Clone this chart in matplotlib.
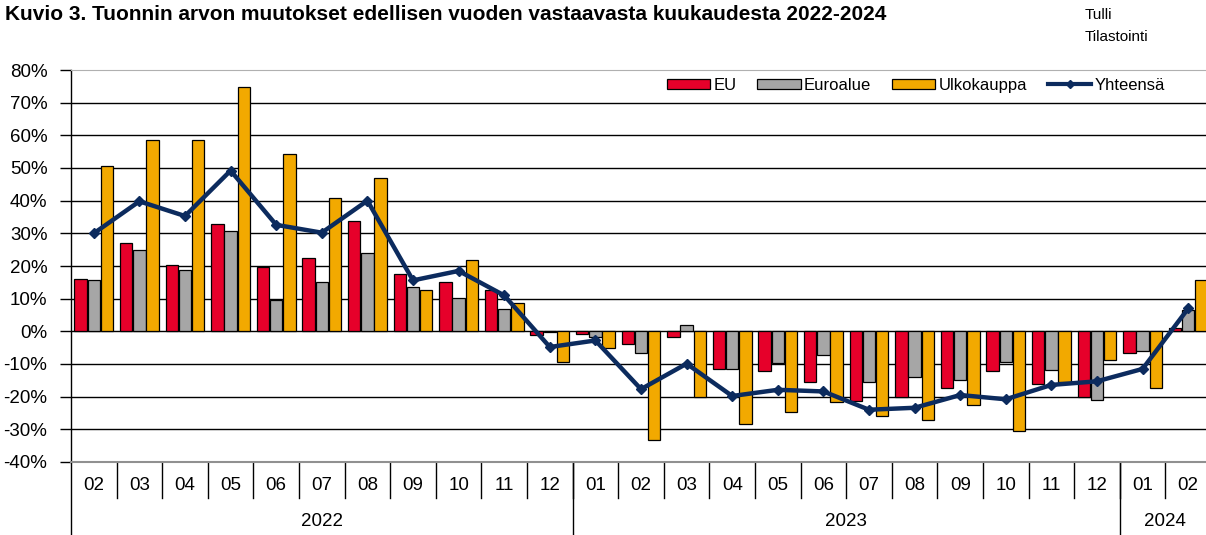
import numpy as np
import matplotlib
matplotlib.use("Agg")
import matplotlib.pyplot as plt
from matplotlib.ticker import FuncFormatter
from matplotlib.patches import Patch
from matplotlib.lines import Line2D

plt.rcParams['font.family'] = ['Liberation Sans', 'DejaVu Sans']

# data (% change on same month of previous year)
months = ['02', '03', '04', '05', '06', '07', '08', '09', '10', '11', '12',
          '01', '02', '03', '04', '05', '06', '07', '08', '09', '10', '11', '12',
          '01', '02']
years = ['2022', '2023', '2024']
year_counts = [11, 12, 2]

eu = [16.1, 27.1, 20.3, 32.8, 19.6, 22.4, 33.8, 17.6, 15.1, 12.7, -1.0,
      -0.7, -3.9, -1.8, -11.5, -12.0, -15.6, -21.4, -20.0, -17.2, -12.0, -16.1, -20.0,
      -6.7, 1.1]
euroalue = [15.6, 25.0, 18.7, 30.7, 9.7, 15.1, 23.9, 13.5, 10.3, 6.7, -0.3,
            -1.8, -6.6, 1.9, -11.5, -9.6, -7.1, -15.6, -14.1, -14.9, -9.4, -11.7, -21.0,
            -6.1, 6.6]
ulkokauppa = [50.7, 58.6, 58.6, 74.7, 54.3, 40.8, 47.0, 12.8, 21.8, 8.8, -9.4,
              -5.1, -33.2, -20.0, -28.5, -24.7, -21.6, -25.8, -27.0, -22.6, -30.6, -15.5, -8.9,
              -17.4, 15.6]
yhteensa = [30.0, 39.8, 35.3, 49.2, 32.6, 30.2, 40.0, 15.6, 18.5, 11.0, -4.8,
            -2.8, -17.7, -9.9, -19.8, -17.9, -18.4, -24.0, -23.4, -19.5, -20.8, -16.4, -15.3,
            -11.5, 7.0]

c_eu = '#E6002A'
c_euro = '#A6A6A6'
c_ulko = '#F2A900'
c_line = '#0C2B5E'

fig = plt.figure(figsize=(12.06, 5.35), dpi=100)
ax = fig.add_axes([71/1206, 1-462/535, 1140/1206, 392/535])

x = np.arange(len(months))
w = 0.275
off = 0.29
kw = dict(width=w, edgecolor='black', linewidth=0.9, zorder=3)
ax.bar(x - off, eu, color=c_eu, **kw)
ax.bar(x, euroalue, color=c_euro, **kw)
ax.bar(x + off, ulkokauppa, color=c_ulko, **kw)
ax.plot(x, yhteensa, color=c_line, lw=3.2, marker='D', ms=5, zorder=4)

ax.set_xlim(-0.5, len(months) - 0.5)
ax.set_ylim(-40, 80)
ax.set_yticks(np.arange(-40, 81, 10))
ax.yaxis.set_major_formatter(FuncFormatter(lambda v, p: f'{v:.0f}%'))
ax.tick_params(axis='y', direction='out', length=8, width=1, labelsize=13.5, pad=9)
ax.set_xticks([])
for v in range(-30, 80, 10):
    ax.axhline(v, color='black', lw=1, zorder=1)

ax.spines['right'].set_visible(False)
ax.spines['top'].set_color('#B0B0B0')
ax.spines['bottom'].set_color('#909090')
ax.spines['bottom'].set_linewidth(1.5)
ax.spines['left'].set_linewidth(1)

# category axis: months and years
tr = ax.get_xaxis_transform()
for i, m in enumerate(months):
    ax.text(i, -0.059, m, transform=tr, ha='center', va='center', fontsize=13.5)
for b in range(1, len(months)):
    ax.plot([b - 0.5, b - 0.5], [0, -0.092], transform=tr, color='black',
            lw=1, clip_on=False)
start = 0
bounds = [-0.5]
for yr, n in zip(years, year_counts):
    ax.text(start + (n - 1) / 2, -0.153, yr, transform=tr, ha='center',
            va='center', fontsize=13.5)
    start += n
    bounds.append(start - 0.5)
for b in bounds:
    ax.plot([b, b], [0, -0.19], transform=tr, color='black', lw=1, clip_on=False)

handles = [Patch(facecolor=c_eu, edgecolor='black', lw=0.9),
           Patch(facecolor=c_euro, edgecolor='black', lw=0.9),
           Patch(facecolor=c_ulko, edgecolor='black', lw=0.9),
           Line2D([], [], color=c_line, lw=3, marker='D', ms=4)]
ax.legend(handles, ['EU', 'Euroalue', 'Ulkokauppa', 'Yhteensä'], ncol=4,
          loc='upper right', bbox_to_anchor=(0.97, 1.01), frameon=False,
          fontsize=12, handlelength=2.6, handleheight=0.6, handletextpad=0.2,
          columnspacing=1.25, borderaxespad=0.3)

fig.text(5/1206, 1-14/535, 'Kuvio 3. Tuonnin arvon muutokset edellisen vuoden '
         'vastaavasta kuukaudesta 2022-2024', fontsize=15, fontweight='bold',
         ha='left', va='center')
fig.text(1085/1206, 1-15/535, 'Tulli', fontsize=11, ha='left', va='center')
fig.text(1085/1206, 1-37/535, 'Tilastointi', fontsize=11, ha='left', va='center')

fig.savefig('out.png', dpi=100)
